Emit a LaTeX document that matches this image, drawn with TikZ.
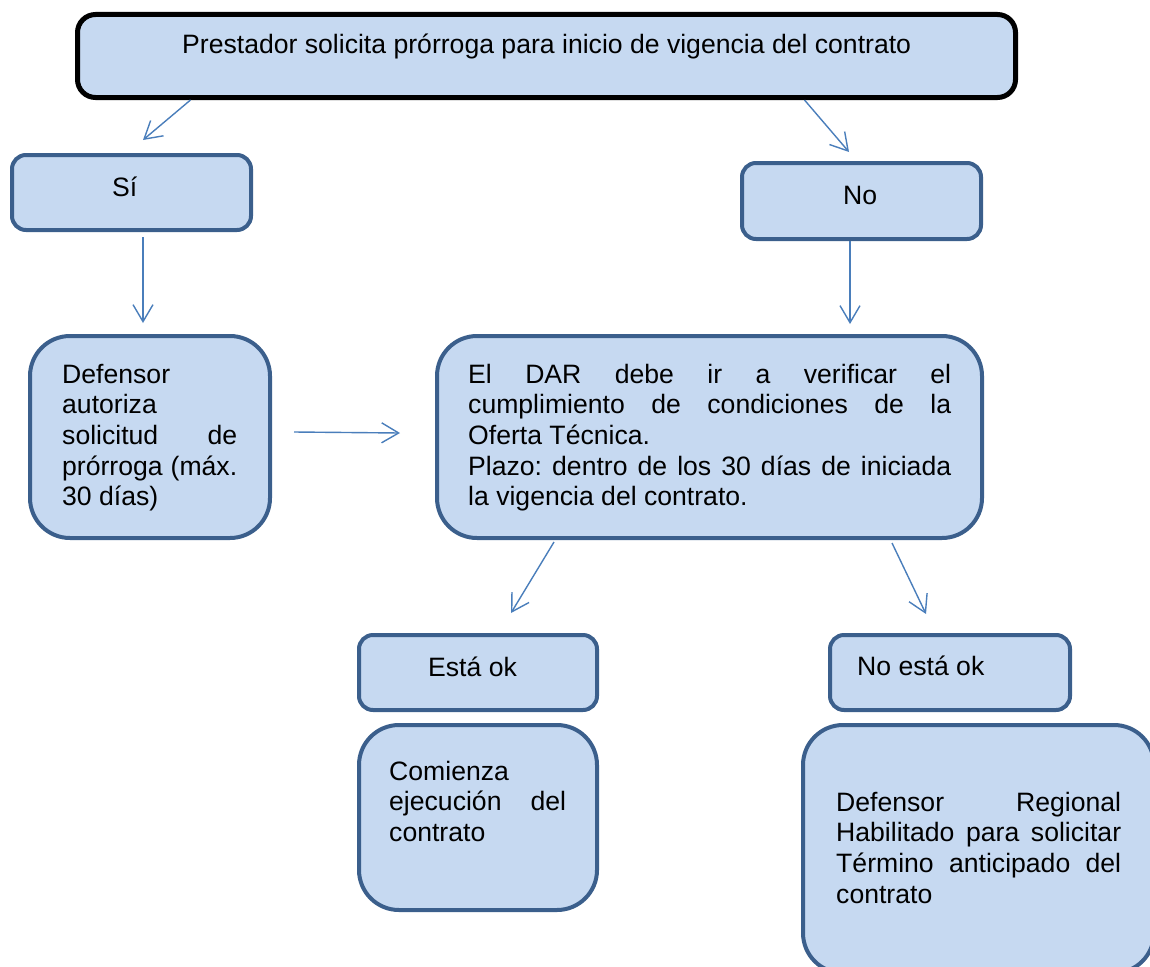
\documentclass[tikz,border=0pt]{standalone}
\usepackage{fontspec}
\setmainfont{Liberation Sans}
\usetikzlibrary{arrows.meta}

\definecolor{boxfill}{HTML}{C6D9F1}
\definecolor{boxline}{HTML}{3B5F8C}
\definecolor{arrline}{HTML}{4A7EBB}
\hyphenpenalty=10000
\tolerance=10000
\frenchspacing

\begin{document}
\begin{tikzpicture}[x=1pt, y=-1pt, font=\fontsize{26.6}{30.7}\selectfont,
		box/.style={draw=boxline, fill=boxfill, line width=4pt, rounded corners=14pt, inner sep=0pt},
		bigbox/.style={box, rounded corners=40pt},
		txt/.style={anchor=base west, inner sep=0pt},
		arr/.style={draw=arrline, line width=1.4pt, -{Straight Barb[length=17pt, width=20pt]}}]
		\useasboundingbox (0,0) rectangle (1150,966);
		\clip (0,0) rectangle (1150,966);
		
		\node[box, draw=black, line width=5pt, rounded corners=18pt, minimum width=938pt, minimum height=83pt] (top) at (546.5, 56) {};
		\node[box, minimum width=239pt, minimum height=75pt] (si) at (131.5, 192.5) {};
		\node[box, minimum width=239pt, minimum height=76pt] (no) at (861.5, 201) {};
		\node[bigbox, minimum width=240pt, minimum height=202pt] (aut) at (150, 437) {};
		\node[bigbox, minimum width=545pt, minimum height=202pt] (dar) at (709.5, 437) {};
		\node[box, minimum width=238pt, minimum height=75pt] (ok) at (478, 672.5) {};
		\node[box, minimum width=240pt, minimum height=75pt] (nok) at (950, 672.5) {};
		\node[bigbox, minimum width=238pt, minimum height=185pt] (ejec) at (478, 817.5) {};
		\node[bigbox, minimum width=351pt, minimum height=248pt] (term) at (978.5, 849) {};
		
		% textos
		\node[txt] (toptxt) at (182, 54) {Prestador solicita prórroga para inicio de vigencia del contrato};
		\node[txt] (sitxt) at (112, 196) {Sí};
		\node[txt] (notxt) at (843, 204) {No};
		\node[txt] (auttxt) at (62, 383) {\parbox[t]{175pt}{Defensor\\autoriza\\solicitud de\linebreak prórroga (máx.\linebreak 30 días)}};
		\node[txt] (dartxt) at (468, 383) {\parbox[t]{483pt}{El DAR debe ir a verificar el\linebreak cumplimiento de condiciones de la\linebreak Oferta Técnica.\\Plazo: dentro de los 30 días de iniciada\linebreak la vigencia del contrato.}};
		\node[txt] (oktxt) at (428, 676) {Está ok};
		\node[txt] (noktxt) at (857, 675) {No está ok};
		\node[txt] (ejectxt) at (389, 780) {\parbox[t]{177pt}{Comienza\\ejecución del\linebreak contrato}};
		\node[txt] (termtxt) at (836, 811) {\parbox[t]{285pt}{Defensor Regional\linebreak Habilitado para solicitar\linebreak Término anticipado del\linebreak contrato}};
		
		\path ([xshift=115.5pt]top.south west) edge[arr] ([xshift=11.5pt, yshift=13pt]si.north)
			([xshift=-213.5pt]top.south east) edge[arr] ([xshift=-12.5pt, yshift=9pt]no.north)
			([xshift=11.5pt, yshift=-5pt]si.south) edge[arr] ([xshift=-7pt, yshift=11pt]aut.north)
			([xshift=-11.5pt]no.south) edge[arr] ([xshift=140.5pt, yshift=10pt]dar.north)
			([xshift=22pt, yshift=5pt]aut.east) edge[arr] ([xshift=-35pt, yshift=4pt]dar.west)
			([xshift=-155.5pt, yshift=-2pt]dar.south) edge[arr] ([xshift=33pt, yshift=20pt]ok.north)
			([xshift=182.5pt, yshift=-3pt]dar.south) edge[arr] ([xshift=-24pt, yshift=19pt]nok.north);
	\end{tikzpicture}
\end{document}
